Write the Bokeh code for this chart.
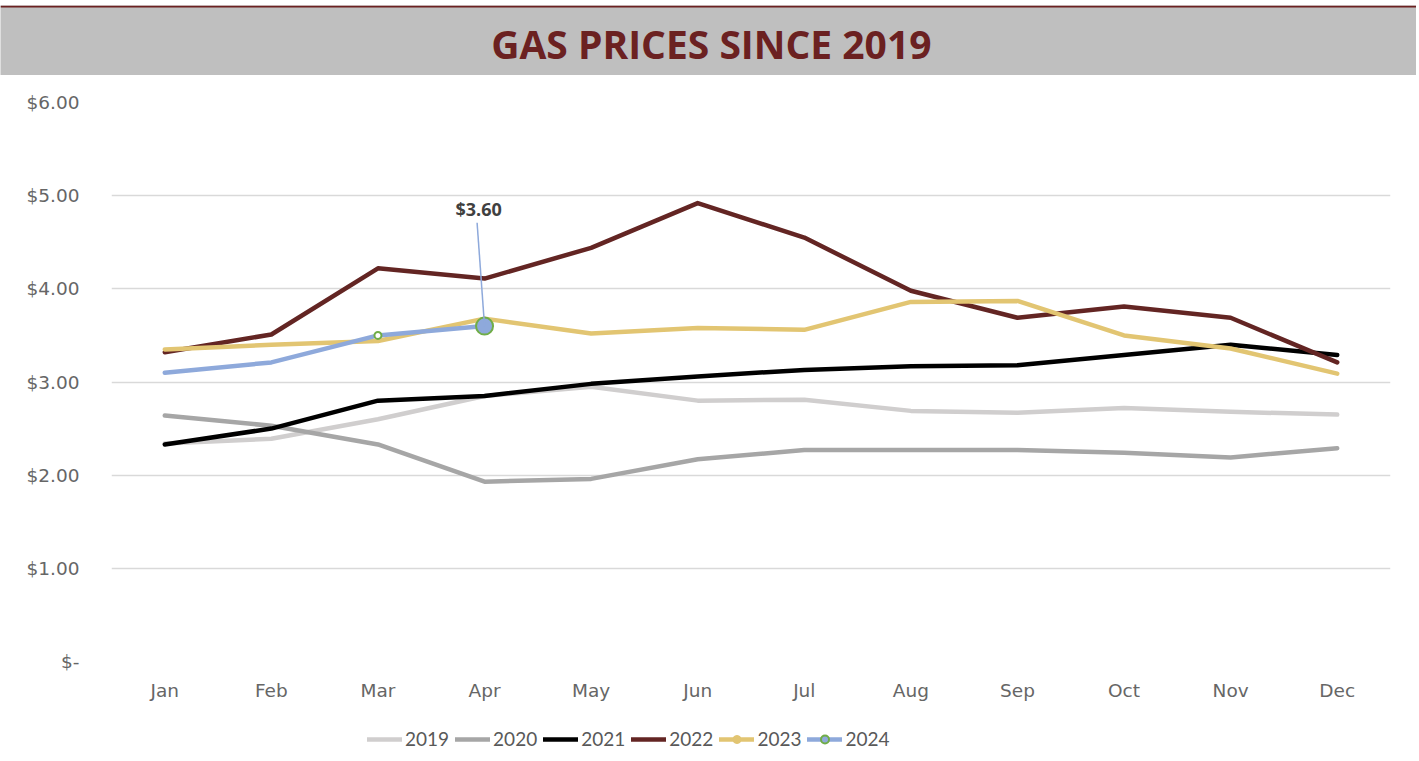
from bokeh.plotting import figure
from bokeh.models import (ColumnDataSource, Legend, LegendItem, Label, Arrow,
                          FixedTicker, Range1d, FactorRange, BoxAnnotation)
from bokeh.layouts import column
from bokeh.embed import file_html
from bokeh.resources import INLINE

# ---------------- data ----------------
months = ["Jan", "Feb", "Mar", "Apr", "May", "Jun",
          "Jul", "Aug", "Sep", "Oct", "Nov", "Dec"]
years = ["2019", "2020", "2021", "2022", "2023", "2024"]

p2019 = [2.34, 2.39, 2.60, 2.85, 2.95, 2.80, 2.81, 2.69, 2.67, 2.72, 2.68, 2.65]
p2020 = [2.64, 2.53, 2.33, 1.93, 1.96, 2.17, 2.27, 2.27, 2.27, 2.24, 2.19, 2.29]
p2021 = [2.33, 2.50, 2.80, 2.85, 2.98, 3.06, 3.13, 3.17, 3.18, 3.29, 3.40, 3.29]
p2022 = [3.32, 3.51, 4.22, 4.11, 4.44, 4.92, 4.55, 3.98, 3.69, 3.81, 3.69, 3.21]
p2023 = [3.35, 3.40, 3.44, 3.68, 3.52, 3.58, 3.56, 3.86, 3.87, 3.50, 3.36, 3.09]
p2024 = [3.10, 3.21, 3.50, 3.60]

y_ticks = [0, 1, 2, 3, 4, 5, 6]
y_tick_labels = ["$-", "$1.00", "$2.00", "$3.00", "$4.00", "$5.00", "$6.00"]

title_text = "GAS PRICES SINCE 2019"

# ---------------- styles ----------------
colors = {"2019": "#D0CECE", "2020": "#A6A6A6", "2021": "#000000",
          "2022": "#632523", "2023": "#E2C572", "2024": "#8EA9DB"}
series = {"2019": p2019, "2020": p2020, "2021": p2021,
          "2022": p2022, "2023": p2023, "2024": p2024}
TXT = "#595959"
GRID = "#D9D9D9"
GREEN = "#70AD47"
DARKRED = "#6B2121"
AXFONT = "DejaVu Sans"
W = 1416
BL, BR = 111, 26
NAN = float("nan")


def bare(h, top=0):
    f = figure(width=W, height=h, x_range=Range1d(0, 1), y_range=Range1d(0, 1),
               output_backend="svg", toolbar_location=None,
               min_border_left=0, min_border_right=0, min_border_bottom=0,
               min_border_top=top, frame_align=False)
    f.border_fill_color = "white"
    f.background_fill_color = "white"
    f.outline_line_color = None
    f.xaxis.visible = False
    f.yaxis.visible = False
    f.grid.visible = False
    return f


# ---------------- title band ----------------
band = bare(75, top=5)
band.background_fill_color = "#BFBFBF"
band.add_layout(BoxAnnotation(bottom=1 - 2 / 70, top=1, fill_color=DARKRED,
                              fill_alpha=1, line_color=None))
band.add_layout(Label(x=0.502, y=0.464, text=title_text, text_align="center",
                      text_baseline="middle", text_font="Open Sans",
                      text_font_style="bold", text_font_size="39px",
                      text_color=DARKRED))

# ---------------- main chart ----------------
p = figure(width=W, height=636, x_range=FactorRange(*months),
           y_range=Range1d(0, 6), output_backend="svg", toolbar_location=None,
           min_border_left=BL, min_border_right=BR, min_border_top=27,
           min_border_bottom=50, frame_align=False)
p.outline_line_color = None
p.background_fill_color = "white"
p.border_fill_color = "white"

p.xgrid.visible = False
p.ygrid.grid_line_color = GRID
p.ygrid.grid_line_width = 1.5
p.yaxis.ticker = FixedTicker(ticks=y_ticks)
p.yaxis.major_label_overrides = {k: v for k, v in zip(y_ticks, y_tick_labels)}
for ax in (p.xaxis, p.yaxis):
    ax.axis_line_color = None
    ax.major_tick_line_color = None
    ax.minor_tick_line_color = None
    ax.major_label_text_color = "#666666"
    ax.major_label_text_font = AXFONT
    ax.major_label_text_font_size = "18.5px"
p.yaxis.major_label_standoff = 26
p.xaxis.major_label_standoff = 12

LW = 4.5
for yr in years:
    vals = series[yr]
    src = ColumnDataSource(dict(x=months[:len(vals)], y=vals))
    p.line("x", "y", source=src, line_color=colors[yr],
           line_width=LW, line_cap="round", line_join="round")

# 2024 markers (last two points)
n24 = len(p2024)
mk_src = ColumnDataSource(dict(x=months[n24 - 2:n24], y=p2024[n24 - 2:],
                               size=[7, 17], fill=["#FFFFFF", colors["2024"]]))
p.scatter("x", "y", source=mk_src, size="size", fill_color="fill",
          line_color=GREEN, line_width=2)

# data label for latest 2024 value
last_x = n24 - 1 + 0.5
p.add_layout(Arrow(end=None, x_start=last_x, y_start=p2024[-1],
                   x_end=last_x - 0.07, y_end=4.71,
                   line_color=colors["2024"], line_width=1.5))
p.add_layout(Label(x=last_x - 0.055, y=4.86, text=f"${p2024[-1]:.2f}",
                   text_align="center", text_baseline="middle",
                   text_font="Open Sans", text_font_style="bold",
                   text_font_size="18px", text_color="#404040"))

# ---------------- legend strip ----------------
lg = bare(50)
items = []
for yr in years:
    e = ColumnDataSource(dict(x=[NAN], y=[NAN]))
    rs = [lg.line("x", "y", source=e, line_color=colors[yr], line_width=LW,
                  line_cap="round")]
    if yr == "2023":
        rs.append(lg.scatter("x", "y", source=e, size=10,
                             fill_color=colors[yr], line_color=colors[yr]))
    if yr == "2024":
        rs.append(lg.scatter("x", "y", source=e, size=11,
                             fill_color=colors[yr], line_color=GREEN,
                             line_width=2))
    items.append(LegendItem(label=yr, renderers=rs))

legend = Legend(items=items, orientation="horizontal", location=(367, 11),
                glyph_width=35, glyph_height=20, label_standoff=3, spacing=6,
                padding=0, margin=0, border_line_color=None,
                background_fill_alpha=0, label_text_font="Lato",
                label_text_font_size="19px", label_text_color=TXT,
                label_height=20)
lg.add_layout(legend, "center")

layout = column(band, p, lg, spacing=0)
open("out.html", "w").write(file_html(layout, INLINE))
